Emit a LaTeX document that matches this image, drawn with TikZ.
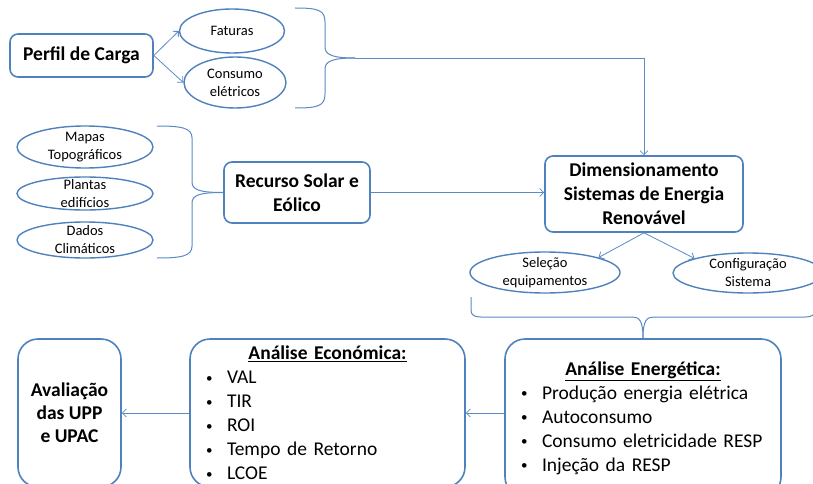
\documentclass[tikz,border=0pt]{standalone}
\usepackage{fontspec}
\setmainfont{Carlito}
\usetikzlibrary{shapes.geometric,arrows.meta}
\definecolor{boxblue}{HTML}{4F81BD}
\definecolor{lineblue}{HTML}{5B8AC6}
\newcommand{\bul}[1]{\mbox{\makebox[21pt][l]{\raisebox{1.5pt}{\fontsize{13}{13}\selectfont\textbullet}}#1}}
\newcommand{\boxtitle}[1]{\makebox[\linewidth][c]{\underline{\textbf{#1}}}}

\begin{document}
\begin{tikzpicture}[x=1pt,y=-1pt,
    box/.style={draw=boxblue,line width=1.6pt,rounded corners=8pt,align=center,inner sep=0pt,
        font=\fontsize{19.5}{24}\selectfont\bfseries},
    bigbox/.style={draw=boxblue,line width=1.6pt,rounded corners=20pt,minimum height=148pt,
        inner sep=0pt,font=\fontsize{19.5}{24}\selectfont},
    oval/.style={ellipse,draw=boxblue,line width=1.4pt,inner sep=0pt},
    ovaltext/.style={align=center,inner sep=0pt,font=\fontsize{14.5}{18}\selectfont},
    conn/.style={draw=lineblue,line width=0.8pt,-{Straight Barb[length=4pt,width=8pt]}},
    brace/.style={draw=lineblue,line width=1pt}]

    \useasboundingbox (0,0) rectangle (813,484);

    % load profile
    \node[box,minimum width=143pt,minimum height=43pt] (perfil) at (81.5,55.5) {Perfil de Carga};
    \node[oval,minimum width=105pt,minimum height=44pt] (fat) at (232,31) {};
    \node[ovaltext] (fat-t) at (fat) {Faturas};
    \node[oval,minimum width=102pt,minimum height=51pt] (cons) at (235,82.5) {};
    \node[ovaltext] (cons-t) at (cons) {Consumo\\elétricos};
    \draw[conn] (perfil.east) -- (fat.west);
    \draw[conn] (perfil.east) -- (cons.west);

    % resource inputs
    \node[oval,minimum width=136pt,minimum height=42pt] (mapas) at (85,147) {};
    \node[ovaltext] (mapas-t) at (mapas) {Mapas\\Topográficos};
    \node[oval,minimum width=136pt,minimum height=33pt] (plantas) at (85,193.5) {};
    \node[ovaltext] (plantas-t) at (plantas) {Plantas\\edifícios};
    \node[oval,minimum width=136pt,minimum height=36pt] (dados) at (85,240) {};
    \node[ovaltext] (dados-t) at (dados) {Dados\\Climáticos};
    \node[box,minimum width=146pt,minimum height=61pt] (rec) at (297,192.5) {Recurso Solar e\\Eólico};

    % sizing
    \node[box,minimum width=198pt,minimum height=76pt] (dim) at (644,194) {Dimensionamento\\Sistemas de Energia\\Renovável};
    \node[oval,minimum width=150pt,minimum height=41pt] (sel) at (545,272.5) {};
    \node[ovaltext] (sel-t) at (sel) {Seleção\\equipamentos};
    \node[oval,minimum width=150pt,minimum height=40pt] (cfg) at (748,273) {};
    \node[ovaltext] (cfg-t) at (cfg) {Configuração\\Sistema};

    % analysis
    \node[bigbox,minimum width=103pt,align=center,font=\fontsize{19.5}{23}\selectfont\bfseries] (aval) at (69.5,413) {Avaliação\\das UPP\\e UPAC};
    \node[bigbox,minimum width=275pt,text width=243pt,inner xsep=16pt,align=left] (eco) at (327.5,413)
        {\boxtitle{Análise Económica:}\\\bul{VAL}\\\bul{TIR}\\\bul{ROI}\\\bul{Tempo de Retorno}\\\bul{LCOE}};
    \node[bigbox,minimum width=276pt,minimum height=158pt,text width=244pt,inner xsep=16pt,align=left] (ene) at (643,418)
        {\boxtitle{Análise Energética:}\\\bul{Produção energia elétrica}\\\bul{Autoconsumo}\\\bul{Consumo eletricidade RESP}\\\bul{Injeção da RESP}};

    % braces
    \coordinate (tipA) at (355,58);
    \draw[brace] (295,8) .. controls (318,8) and (325,10) .. (325,22) -- (325,47) .. controls (325,55) and (333,58) .. (tipA);
    \draw[brace] (295,108) .. controls (318,108) and (325,106) .. (325,94) -- (325,69) .. controls (325,61) and (333,58) .. (tipA);
    \coordinate (tipB) at (rec.west);
    \draw[brace] (157,126) .. controls (182,126) and (192,128) .. (192,138) -- (192,182) .. controls (192,190) and (200,192.5) .. (tipB);
    \draw[brace] (157,258) .. controls (182,258) and (192,256) .. (192,246) -- (192,203) .. controls (192,195) and (200,192.5) .. (tipB);
    \coordinate (tipC) at (ene.north);
    \draw[brace] (471,297) -- (471,310) .. controls (471,315) and (474,317) .. (481,317) -- (632,317) .. controls (639,317) and (643,320) .. (tipC);
    \draw[brace] (815,297) -- (815,310) .. controls (815,315) and (812,317) .. (805,317) -- (654,317) .. controls (647,317) and (643,320) .. (tipC);

    % connectors
    \draw[conn] (tipA) -| (dim.north);
    \draw[conn] (rec.east) -- (rec.east -| dim.west);
    \draw[conn] (dim.south) -- (sel.north east);
    \draw[conn] (dim.south) -- (cfg.north west);
    \draw[conn] (ene.west |- eco.east) -- (eco.east);
    \draw[conn] (eco.west) -- (aval.east);

\end{tikzpicture}
\end{document}
